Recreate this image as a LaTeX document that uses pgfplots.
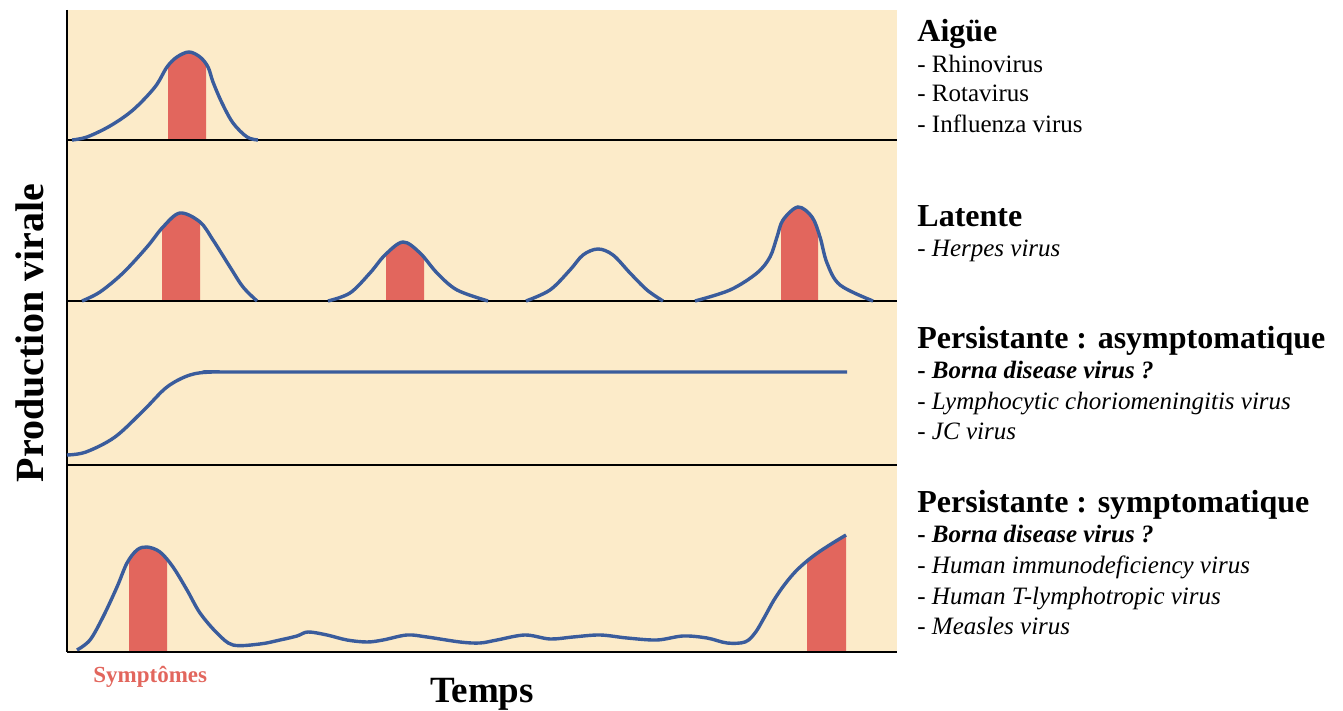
\documentclass[border=0pt]{standalone}
\usepackage{fontspec}
\setmainfont{Liberation Serif}
\usepackage{pgfplots}
\pgfplotsset{compat=1.18}
\usepgfplotslibrary{fillbetween}
\definecolor{bgbeige}{HTML}{FCEBC9}
\definecolor{curveblue}{HTML}{3A5C9C}
\definecolor{fillred}{HTML}{E2665D}
\definecolor{baseline}{HTML}{3A3835}
\tikzset{
  head/.style={anchor=base west, inner sep=0pt, font=\fontsize{16}{19}\selectfont\bfseries},
  item/.style={anchor=base west, inner sep=0pt, font=\fontsize{12.5}{15}\selectfont},
}
\begin{document}
\begin{tikzpicture}
\begin{axis}[set layers, hide axis, scale only axis,
  width=671.5pt, height=355.5pt,
  xmin=0, xmax=1343, ymin=0, ymax=711, y dir=reverse, clip=false,
  crv/.style={curveblue, line width=1.7pt, smooth, tension=0.55, mark=none},
  bl/.style={baseline, line width=1.1pt, mark=none},
  rf/.style={fillred, draw=none},
]
% background panel
\addplot[fill=bgbeige, draw=none, on layer=axis background] coordinates {(67,10) (897,10) (897,652) (67,652)} -- cycle;

% baselines
\addplot[bl, name path=b1] coordinates {(67,140) (897,140)};
\addplot[bl, name path=b2] coordinates {(67,301) (897,301)};
\addplot[bl, name path=b3] coordinates {(67,465) (897,465)};
\addplot[bl, name path=b4] coordinates {(67,652) (897,652)};
\addplot[bl] coordinates {(67,10) (67,652)};

% Panel 1: Aigue
\addplot[crv, name path=c1] coordinates {(72,140) (87,137) (110,126) (133,110) (155,87) (167,67) (177,57) (189,52) (200,57) (208,67) (213,82) (222,103) (233,123) (247,137) (258,140)};
\addplot[rf] fill between[of=c1 and b1, soft clip={domain=168:206}];

% Panel 2: Latente
\addplot[crv, name path=c2a] coordinates {(82,301) (100,292) (123,273) (147,247) (163,227) (180,213) (200,222) (213,240) (230,267) (243,287) (257,301)};
\addplot[rf] fill between[of=c2a and b2, soft clip={domain=162:200}];
\addplot[crv, name path=c2b] coordinates {(328,301) (350,293) (370,273) (385,255) (403,242) (420,253) (437,273) (457,290) (488,301)};
\addplot[rf] fill between[of=c2b and b2, soft clip={domain=386:424}];
\addplot[crv] coordinates {(526,301) (550,290) (570,270) (583,255) (598,249) (613,255) (630,273) (647,290) (663,301)};
\addplot[crv, name path=c2d] coordinates {(695,301) (730,290) (757,273) (770,257) (777,237) (783,220) (798,207) (812,217) (820,237) (827,263) (840,285) (873,301)};
\addplot[rf] fill between[of=c2d and b2, soft clip={domain=781:818}];

% Panel 3: persistante asymptomatique
\addplot[crv] coordinates {(67,455) (86,452) (115,437) (144,410) (167,387) (190,375) (213,372) (260,372) (847,372)};

% Panel 4: persistante symptomatique
\addplot[crv, name path=c4] coordinates {(77,650) (90,640) (103,617) (117,587) (127,563) (137,550) (147,547) (160,552) (173,567) (187,590) (200,613) (217,633) (233,645) (260,644) (280,640) (297,636) (308,632) (327,635) (347,640) (367,642) (383,640) (407,635) (427,637) (460,642) (480,643) (497,640) (525,635) (550,639) (573,637) (600,635) (627,638) (657,640) (683,636) (707,638) (727,643) (745,642) (755,633) (764,618) (774,600) (785,584) (797,570) (812,557) (828,546) (846,535)};
\addplot[rf] fill between[of=c4 and b4, soft clip={domain=129:167}];
\addplot[rf] fill between[of=c4 and b4, soft clip={domain=807:846}];

% Texts
\node[head] at (axis cs:917,42) {Aigüe};
\node[item] at (axis cs:917,73) {- Rhinovirus};
\node[item] at (axis cs:917,102) {- Rotavirus};
\node[item] at (axis cs:917,133) {- Influenza virus};

\node[head] at (axis cs:917,227) {Latente};
\node[item] at (axis cs:917,257) {- \textit{Herpes virus}};

\node[head] at (axis cs:917,349) {Persistante : asymptomatique};
\node[item] at (axis cs:917,379) {\textbf{- \textit{Borna disease virus ?}}};
\node[item] at (axis cs:917,410) {- \textit{Lymphocytic choriomeningitis virus}};
\node[item] at (axis cs:917,440) {- \textit{JC virus}};

\node[head] at (axis cs:917,513) {Persistante : symptomatique};
\node[item] at (axis cs:917,543) {\textbf{- \textit{Borna disease virus ?}}};
\node[item] at (axis cs:917,574) {- \textit{Human immunodeficiency virus}};
\node[item] at (axis cs:917,605) {- \textit{Human T-lymphotropic virus}};
\node[item] at (axis cs:917,635) {- \textit{Measles virus}};

\node[rotate=90, anchor=base, inner sep=0pt, font=\fontsize{20}{24}\selectfont\bfseries] at (axis cs:43,333) {Production virale};
\node[anchor=base west, inner sep=0pt, font=\fontsize{18.5}{22}\selectfont\bfseries] at (axis cs:430,703) {Temps};
\node[anchor=base west, inner sep=0pt, text=fillred, font=\fontsize{11.5}{14}\selectfont\bfseries] at (axis cs:93,683) {Symptômes};
\end{axis}
\pgfresetboundingbox
\path[use as bounding box] (0,0) rectangle (671.5pt,355.5pt);
\end{tikzpicture}
\end{document}
